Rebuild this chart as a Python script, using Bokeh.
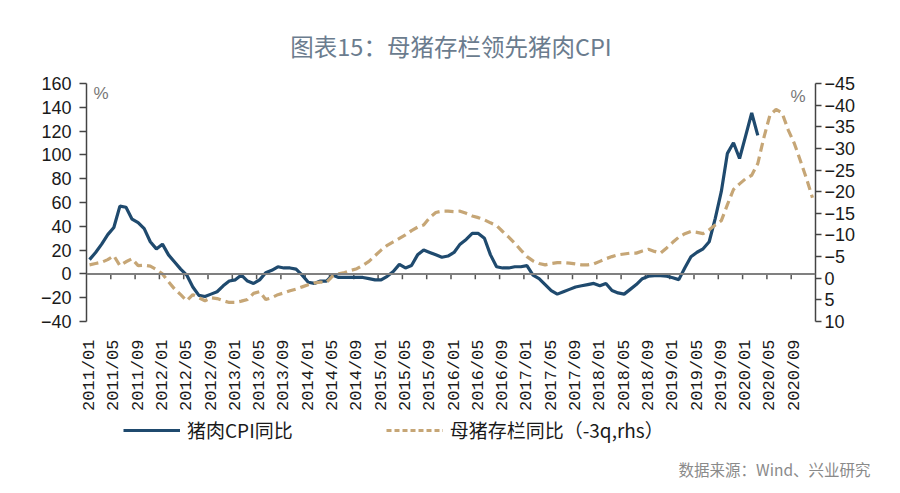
from bokeh.plotting import figure
from bokeh.layouts import column
from bokeh.models import (Range1d, LinearAxis, FixedTicker, CustomJSTickFormatter,
                          Span, Label, Legend, LegendItem, Title)
from bokeh.embed import file_html
from bokeh.resources import INLINE

# ---------------- data ----------------
months = [f"{y}/{m:02d}" for y in range(2011, 2021) for m in range(1, 13)]  # 2011/01 .. 2020/12

pork_cpi_yoy = [12, 18, 25, 33, 39, 57, 56, 46, 43, 38, 27, 21,
                25, 16, 10, 4, -1, -11, -18, -19, -17, -15, -10, -6,
                -5, -1, -6, -8, -5, 1, 3, 6, 5, 5, 4, -1,
                -7, -8, -6, -6, -1, -3, -3, -3, -3, -3, -4, -5,
                -5, -2, 2, 8, 5, 7, 16, 20, 18, 16, 14, 15,
                18, 25, 29, 34, 34, 30, 16, 6, 5, 5, 6, 6,
                7, -1, -4, -9, -14, -17, -15, -13, -11, -10, -9, -8,
                -10, -8, -14, -16, -17, -13, -9, -4, -2, -1.5, -1.5, -2,
                -3.2, -4.8, 5.1, 14.4, 18.2, 21.1, 27.0, 46.7, 69.3, 101.3, 110.2, 97.0,
                116.0, 135.2, 116.4]

sow_yoy_lead3q = [-3.1, -3.4, -3.7, -4.3, -5.2, -2.9, -3.8, -4.5, -2.9, -3.0, -2.8, -2.0,
                  -1.0, 0.8, 2.5, 3.8, 5.2, 3.8, 4.5, 5.2, 4.5, 4.7, 5.2, 5.6,
                  5.6, 5.3, 4.9, 3.5, 3.1, 4.9, 4.5, 3.8, 3.4, 2.9, 2.5, 2.0,
                  1.5, 1.1, 0.9, 1.0, -0.5, -1.0, -1.3, -1.8, -2.2, -3.0, -3.9, -5.2,
                  -6.5, -7.6, -8.4, -9.2, -10.0, -11.0, -11.8, -12.3, -14.0, -15.2, -15.5, -15.5,
                  -15.4, -15.5, -15.0, -14.4, -14.0, -13.5, -12.8, -12.2, -10.8, -9.5, -8.1, -6.5,
                  -5.0, -4.0, -3.4, -3.1, -3.4, -3.6, -3.6, -3.5, -3.3, -3.1, -3.1, -3.3,
                  -3.9, -4.5, -5.0, -5.4, -5.6, -5.8, -5.8, -6.3, -6.7, -6.2, -5.8, -7.0,
                  -8.3, -9.5, -10.3, -10.8, -10.6, -10.3, -11.2, -12.3, -13.3, -17.0, -20.5, -21.8,
                  -23.0, -23.8, -26.5, -32.5, -37.7, -39.0, -38.2, -34.3, -31.2, -27.2, -23.1, -18.6]

left_ticks = [-40, -20, 0, 20, 40, 60, 80, 100, 120, 140, 160]
right_ticks = [10, 5, 0, -5, -10, -15, -20, -25, -30, -35, -40, -45]
label_step = 4

title_text = "图表15：母猪存栏领先猪肉CPI"
series1_name = "猪肉CPI同比"
series2_name = "母猪存栏同比（-3q,rhs）"
source_text = "数据来源：Wind、兴业研究"

BLUE = "#1f4a6e"
TAN = "#c6a676"
AXIS = "#444444"
TXT = "#1a1a1a"
NUM_FONT = "Liberation Sans"
CJK_FONT = "Noto Sans CJK SC"
DASH = "9 5"

x1 = list(range(len(pork_cpi_yoy)))
x2 = list(range(len(sow_yoy_lead3q)))
n = len(months)

p = figure(width=900, height=413, output_backend="svg", toolbar_location=None,
           x_range=Range1d(-0.5, n - 0.5), y_range=Range1d(-40, 160),
           min_border_left=86, min_border_right=85, min_border_top=83, min_border_bottom=85)
p.outline_line_color = None
p.xgrid.visible = False
p.ygrid.visible = False
p.background_fill_color = "white"
p.border_fill_color = "white"

p.extra_y_ranges = {"right": Range1d(start=10, end=-45)}

minus_fmt = CustomJSTickFormatter(code="return tick < 0 ? '\\u2212' + Math.abs(tick) : tick.toString();")

# left axis
ya = p.yaxis[0]
ya.ticker = FixedTicker(ticks=left_ticks)
ya.formatter = minus_fmt
ya.axis_line_color = AXIS
ya.axis_line_width = 1.5
ya.major_tick_line_color = AXIS
ya.major_tick_line_width = 1.5
ya.major_tick_in = 0
ya.major_tick_out = 7
ya.minor_tick_line_color = None
ya.major_label_text_font = NUM_FONT
ya.major_label_text_font_size = "18px"
ya.major_label_text_color = TXT
ya.major_label_standoff = 8

# right axis
ra = LinearAxis(y_range_name="right", ticker=FixedTicker(ticks=right_ticks), formatter=minus_fmt)
ra.axis_line_color = AXIS
ra.axis_line_width = 1.5
ra.major_tick_line_color = AXIS
ra.major_tick_line_width = 1.5
ra.major_tick_in = 0
ra.major_tick_out = 6
ra.minor_tick_line_color = None
ra.major_label_text_font = NUM_FONT
ra.major_label_text_font_size = "18px"
ra.major_label_text_color = TXT
ra.major_label_standoff = 3
p.add_layout(ra, "right")

# bottom axis (labels only)
xa = p.xaxis[0]
label_pos = list(range(0, n, label_step))
xa.ticker = FixedTicker(ticks=label_pos)
xa.major_label_overrides = {i: months[i] for i in label_pos}
xa.major_label_orientation = 3.14159265 / 2
xa.axis_line_color = None
xa.major_tick_line_color = None
xa.minor_tick_line_color = None
xa.major_label_text_font = "Liberation Mono"
xa.major_label_text_font_size = "17px"
xa.major_label_text_color = TXT
xa.major_label_standoff = 12

# zero line with category-boundary ticks
p.add_layout(Span(location=0, dimension="width", line_color="#808080", line_width=2))
bx = [i - 0.5 for i in range(label_step, n, label_step)]
p.segment(x0=bx, y0=[0] * len(bx), x1=bx, y1=[-4.5] * len(bx), line_color="#555555", line_width=1.5)

r1 = p.line(x1, pork_cpi_yoy, line_color=BLUE, line_width=3.2)
r2 = p.line(x2, sow_yoy_lead3q, line_color=TAN, line_width=3.2, line_dash=DASH, y_range_name="right")

# title above
p.add_layout(Title(text=title_text, align="center", text_font=CJK_FONT, text_font_size="23.5px",
                   text_color="#6b7c8e", text_font_style="normal", standoff=41), "above")

# percent markers
p.add_layout(Label(x=7, y=228, x_units="screen", y_units="screen", text="%",
                   text_align="left", text_baseline="middle", text_font=NUM_FONT,
                   text_font_size="17px", text_color="#777777"))
p.add_layout(Label(x=719, y=225, x_units="screen", y_units="screen", text="%",
                   text_align="right", text_baseline="middle", text_font=NUM_FONT,
                   text_font_size="17px", text_color="#777777"))

# ---------------- legend / source strip ----------------
q = figure(width=900, height=80, output_backend="svg", toolbar_location=None,
           x_axis_type=None, y_axis_type=None, x_range=Range1d(1000, 1001), y_range=Range1d(1000, 1001),
           min_border_left=0, min_border_right=0, min_border_top=0, min_border_bottom=0)
q.frame_align = False
q.outline_line_color = None
q.xgrid.visible = False
q.ygrid.visible = False
q.background_fill_color = "white"
q.border_fill_color = "white"

# legend keys (same series; the strip's ranges keep the lines themselves out of view)
k1 = q.line(x1, pork_cpi_yoy, line_color=BLUE, line_width=3.2)
k2 = q.line(x2, sow_yoy_lead3q, line_color=TAN, line_width=3.2, line_dash="5 3")

lg = Legend(items=[LegendItem(label=series1_name, renderers=[k1]),
                   LegendItem(label=series2_name, renderers=[k2])],
            location=(123, 50), orientation="horizontal", glyph_width=57, glyph_height=20,
            label_standoff=7, spacing=93, padding=0, margin=0,
            border_line_color=None, background_fill_alpha=0,
            label_text_font=CJK_FONT, label_text_font_size="19px", label_text_color=TXT)
q.add_layout(lg, "center")

q.add_layout(Label(x=870, y=25, x_units="screen", y_units="screen", text=source_text,
                   text_align="right", text_baseline="middle", text_font=CJK_FONT,
                   text_font_size="15.5px", text_color="#8a8a8a"))

open("out.html", "w").write(file_html(column(p, q, spacing=0), INLINE))
